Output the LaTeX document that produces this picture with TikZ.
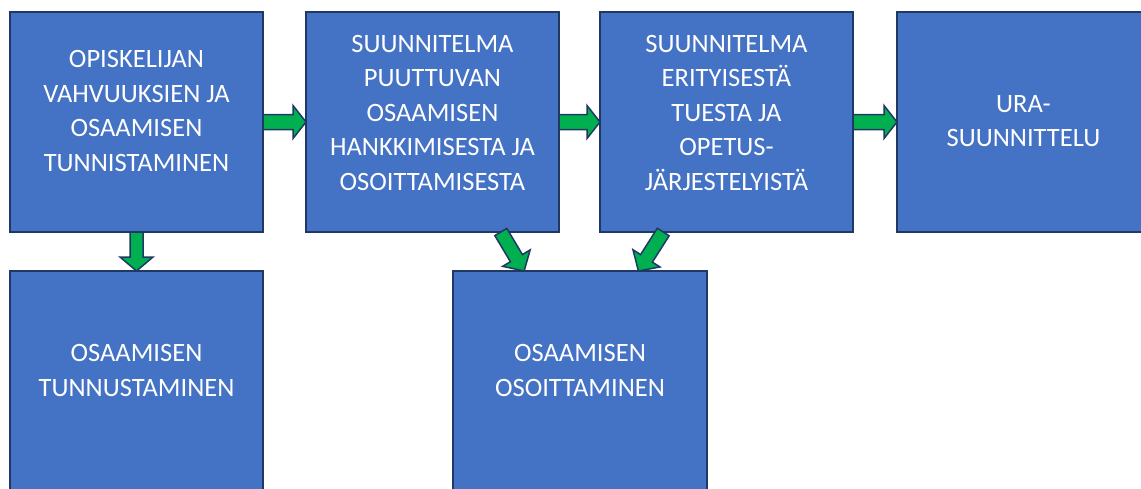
\documentclass[tikz,border=0pt]{standalone}
\usepackage{fontspec}
\setmainfont{Carlito}
\usetikzlibrary{calc}
\definecolor{boxblue}{HTML}{4472C4}
\definecolor{boxline}{HTML}{1F3864}
\definecolor{arrgreen}{HTML}{00B050}
% block arrow: #1 tail, #2 tip, #3 shaft half width, #4 head half width, #5 head length
\newcommand\blockarrow[5]{%
  \coordinate (bah) at ($(#2)!#5!(#1)$);
  \draw[barrow] ($(#1)!#3!90:(#2)$) -- ($(bah)!#3!90:(#2)$) -- ($(bah)!#4!90:(#2)$)
    -- (#2) -- ($(bah)!#4!-90:(#2)$) -- ($(bah)!#3!-90:(#2)$) -- ($(#1)!#3!-90:(#2)$) -- cycle;
}
\begin{document}
\begin{tikzpicture}[x=1pt,y=-1pt,
  box/.style={draw=boxline, line width=2pt, fill=boxblue, minimum width=253pt,
    minimum height=220pt, inner sep=0pt, outer sep=0pt, anchor=north west},
  lbl/.style={text=white, font=\fontsize{26.5}{34.5}\selectfont, align=center, inner sep=0pt},
  barrow/.style={draw=boxline, line width=1.5pt, fill=arrgreen, line join=miter}]
\useasboundingbox (0,0) rectangle (1141,488);
\clip (0,0) rectangle (1141,488);
\node[box] (b1) at (10,12) {};
\node[box] (b2) at (306,12) {};
\node[box] (b3) at (600,12) {};
\node[box] (b4) at (897,12) {};
\node[box, minimum height=240pt] (b5) at (10,271) {};
\node[box, minimum height=240pt, minimum width=254pt] (b6) at (453,271) {};

\node[lbl] (t1) at ($(b1.center)+(0,-11)$) {OPISKELIJAN\\VAHVUUKSIEN JA\\OSAAMISEN\\TUNNISTAMINEN};
\node[lbl] (t2) at ($(b2.center)+(0,-9.5)$) {SUUNNITELMA\\PUUTTUVAN\\OSAAMISEN\\HANKKIMISESTA JA\\OSOITTAMISESTA};
\node[lbl] (t3) at ($(b3.center)+(0,-9.5)$) {SUUNNITELMA\\ERITYISESTÄ\\TUESTA JA\\OPETUS-\\JÄRJESTELYISTÄ};
\node[lbl] (t4) at ($(b4.center)+(0,-1)$) {URA-\\SUUNNITTELU};
\node[lbl] (t5) at (136.5,370.5) {OSAAMISEN\\TUNNUSTAMINEN};
\node[lbl] (t6) at (580,370.5) {OSAAMISEN\\OSOITTAMINEN};

\blockarrow{b1.east}{b2.west}{7.5pt}{16.5pt}{13pt}
\blockarrow{b2.east}{b3.west}{7.5pt}{16.5pt}{13pt}
\blockarrow{b3.east}{b4.west}{7.5pt}{16.5pt}{13pt}
\blockarrow{b1.south}{b5.north}{6.5pt}{16.5pt}{14pt}
\coordinate (d1s) at ($(b2.south west)!0.77!(b2.south east)$);
\coordinate (d1e) at ($(b6.north west)!0.28!(b6.north east)$);
\coordinate (d2s) at ($(b3.south west)!0.25!(b3.south east)$);
\coordinate (d2e) at ($(b6.north west)!0.73!(b6.north east)$);
\blockarrow{d1s}{d1e}{7pt}{16pt}{15pt}
\blockarrow{d2s}{d2e}{7pt}{16pt}{15pt}
\end{tikzpicture}
\end{document}
